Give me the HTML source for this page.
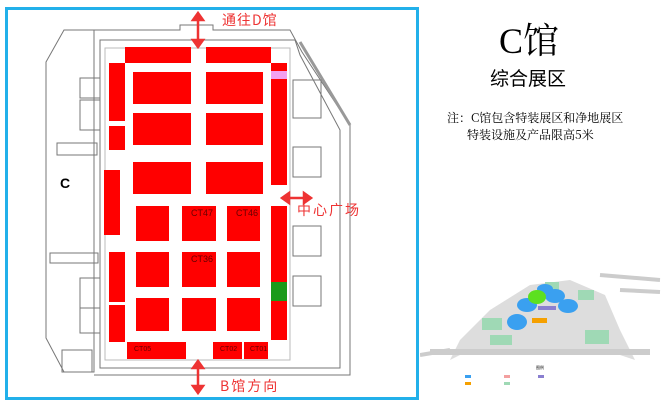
<!DOCTYPE html><html><head><meta charset="utf-8"><style>
body{margin:0;width:661px;height:403px;background:#fff;position:relative;overflow:hidden;font-family:"Liberation Serif","Noto Serif CJK SC",serif}
.b{position:absolute;background:#f00}
.t{position:absolute;white-space:nowrap}
</style></head><body>
<div style="position:absolute;left:5px;top:7px;width:408px;height:387px;border:3px solid #22b0ea"></div>
<svg style="position:absolute;left:0;top:0" width="661" height="403">
<g fill="none" stroke="#777" stroke-width="1">
<path d="M64 30 L94 30 L94 372 L64 372 L46 338 L46 62 Z"/>
<path d="M94 30 L180 30 L180 25 L213 25 L213 30 L290 30 L302 52 L350 125 L350 375 L94 375"/>
<path d="M100 40 L295 40 L300 55 L340 130 L340 368 L100 368 Z"/>
<path d="M105 48 L290 48 L290 360 L105 360 Z" stroke="#bbb"/>
<path d="M300 42 L350 125" stroke-width="3" stroke="#999"/>
<rect x="293" y="80" width="28" height="38"/><rect x="293" y="147" width="28" height="30"/><rect x="293" y="226" width="28" height="30"/><rect x="293" y="276" width="28" height="30"/>
<rect x="80" y="78" width="20" height="20"/><rect x="80" y="100" width="20" height="30"/><rect x="80" y="278" width="20" height="30"/><rect x="80" y="308" width="20" height="25"/>
<rect x="57" y="143" width="40" height="12"/><rect x="50" y="253" width="48" height="10"/><rect x="62" y="350" width="30" height="22"/>
</g>
<g stroke="#e33" stroke-width="2.5" fill="#e33">
<line x1="198" y1="18" x2="198" y2="42"/><path d="M193 20 L198 13 L203 20Z M193 40 L198 47 L203 40Z"/>
<line x1="287" y1="198" x2="306" y2="198"/><path d="M289 193 L282 198 L289 203Z M304 193 L311 198 L304 203Z"/>
<line x1="198" y1="366" x2="198" y2="388"/><path d="M193 368 L198 361 L203 368Z M193 386 L198 393 L203 386Z"/>
</g>
</svg>
<div class="t" style="left:60px;top:175px;font:bold 14px 'Liberation Sans',sans-serif">C</div>
<div class="b" style="left:125px;top:47px;width:66px;height:16px"></div>
<div class="b" style="left:206px;top:47px;width:65px;height:16px"></div>
<div class="b" style="left:109px;top:63px;width:16px;height:58px"></div>
<div class="b" style="left:109px;top:126px;width:16px;height:24px"></div>
<div class="b" style="left:104px;top:170px;width:16px;height:65px"></div>
<div class="b" style="left:133px;top:72px;width:58px;height:32px"></div>
<div class="b" style="left:206px;top:72px;width:57px;height:32px"></div>
<div class="b" style="left:133px;top:113px;width:58px;height:32px"></div>
<div class="b" style="left:206px;top:113px;width:57px;height:32px"></div>
<div class="b" style="left:133px;top:162px;width:58px;height:32px"></div>
<div class="b" style="left:206px;top:162px;width:57px;height:32px"></div>
<div class="b" style="left:271px;top:63px;width:16px;height:122px"></div>
<div class="b" style="left:271px;top:71px;width:16px;height:8px;background:#f4a0f0"></div>
<div class="b" style="left:136px;top:206px;width:33px;height:35px"></div>
<div class="b" style="left:182px;top:206px;width:34px;height:35px"></div>
<div class="b" style="left:227px;top:206px;width:33px;height:35px"></div>
<div class="b" style="left:136px;top:252px;width:33px;height:35px"></div>
<div class="b" style="left:182px;top:252px;width:34px;height:35px"></div>
<div class="b" style="left:227px;top:252px;width:33px;height:35px"></div>
<div class="b" style="left:136px;top:298px;width:33px;height:33px"></div>
<div class="b" style="left:182px;top:298px;width:34px;height:33px"></div>
<div class="b" style="left:227px;top:298px;width:33px;height:33px"></div>
<div class="b" style="left:109px;top:252px;width:16px;height:50px"></div>
<div class="b" style="left:109px;top:305px;width:16px;height:37px"></div>
<div class="b" style="left:271px;top:206px;width:16px;height:134px"></div>
<div class="b" style="left:271px;top:282px;width:16px;height:19px;background:#1a9a1a"></div>
<div class="b" style="left:127px;top:342px;width:59px;height:17px"></div>
<div class="b" style="left:213px;top:342px;width:29px;height:17px"></div>
<div class="b" style="left:244px;top:342px;width:24px;height:17px"></div>
<div class="t" style="left:191px;top:208px;font:9px 'Liberation Sans',sans-serif;color:#600">CT47</div>
<div class="t" style="left:236px;top:208px;font:9px 'Liberation Sans',sans-serif;color:#600">CT46</div>
<div class="t" style="left:191px;top:254px;font:9px 'Liberation Sans',sans-serif;color:#600">CT36</div>
<div class="t" style="left:134px;top:346px;font:7px 'Liberation Sans',sans-serif;color:#600">CT05</div>
<div class="t" style="left:220px;top:346px;font:7px 'Liberation Sans',sans-serif;color:#600">CT02</div>
<div class="t" style="left:250px;top:346px;font:7px 'Liberation Sans',sans-serif;color:#600">CT01</div>
<div class="t" style="left:222px;top:10px;font:14px 'Noto Sans CJK SC',sans-serif;color:#e33;letter-spacing:1px">通往D馆</div>
<div class="t" style="left:297px;top:200px;font:14px 'Noto Sans CJK SC',sans-serif;color:#e33;letter-spacing:2px">中心广场</div>
<div class="t" style="left:220px;top:376px;font:14px 'Noto Sans CJK SC',sans-serif;color:#e33;letter-spacing:2px">B馆方向</div>
<div class="t" style="left:499px;top:22px;font:36px 'Liberation Serif','Noto Serif CJK SC',serif;line-height:38px">C馆</div>
<div class="t" style="left:490px;top:66px;font:19px 'Noto Sans CJK SC',sans-serif;line-height:24px">综合展区</div>
<div class="t" style="left:447px;top:110px;font:12px 'Noto Serif CJK SC',serif;line-height:16px">注：C馆包含特装展区和净地展区</div>
<div class="t" style="left:467px;top:127px;font:12px 'Noto Serif CJK SC',serif;line-height:16px">特装设施及产品限高5米</div>
<svg style="position:absolute;left:420px;top:260px" width="241" height="143">
<path d="M30 100 L40 80 L70 50 L110 25 L150 20 L185 35 L200 70 L215 100 L200 95 L40 95Z" fill="#ddd"/>
<path d="M0 95 L30 90 M200 30 L240 32 M180 15 L240 20" stroke="#ccc" stroke-width="4"/>
<path d="M10 92 L230 92" stroke="#ccc" stroke-width="6"/>
<g fill="#9fd9b5"><rect x="62" y="58" width="20" height="12"/><rect x="70" y="75" width="22" height="10"/><rect x="165" y="70" width="24" height="14"/><rect x="158" y="30" width="16" height="10"/><rect x="125" y="22" width="14" height="8"/></g>
<g fill="#3aa0f0"><ellipse cx="97" cy="62" rx="10" ry="8"/><ellipse cx="107" cy="45" rx="10" ry="7"/><ellipse cx="135" cy="36" rx="10" ry="7"/><ellipse cx="148" cy="46" rx="10" ry="7"/><ellipse cx="125" cy="29" rx="8" ry="5"/></g>
<ellipse cx="117" cy="37" rx="9" ry="7" fill="#5ce020"/>
<rect x="112" y="58" width="15" height="5" fill="#f5a000"/>
<rect x="118" y="46" width="18" height="4" fill="#8a7fd0"/>
<text x="120" y="109" font-size="4" text-anchor="middle" font-family="Noto Sans CJK SC">图例</text>
<g font-size="3" font-family="Noto Sans CJK SC"><rect x="45" y="115" width="6" height="3" fill="#3aa0f0"/><rect x="45" y="122" width="6" height="3" fill="#f5a000"/><rect x="84" y="115" width="6" height="3" fill="#f3a0a0"/><rect x="84" y="122" width="6" height="3" fill="#9fd9b5"/><rect x="118" y="115" width="6" height="3" fill="#8a7fd0"/></g>
</svg>
</body></html>
